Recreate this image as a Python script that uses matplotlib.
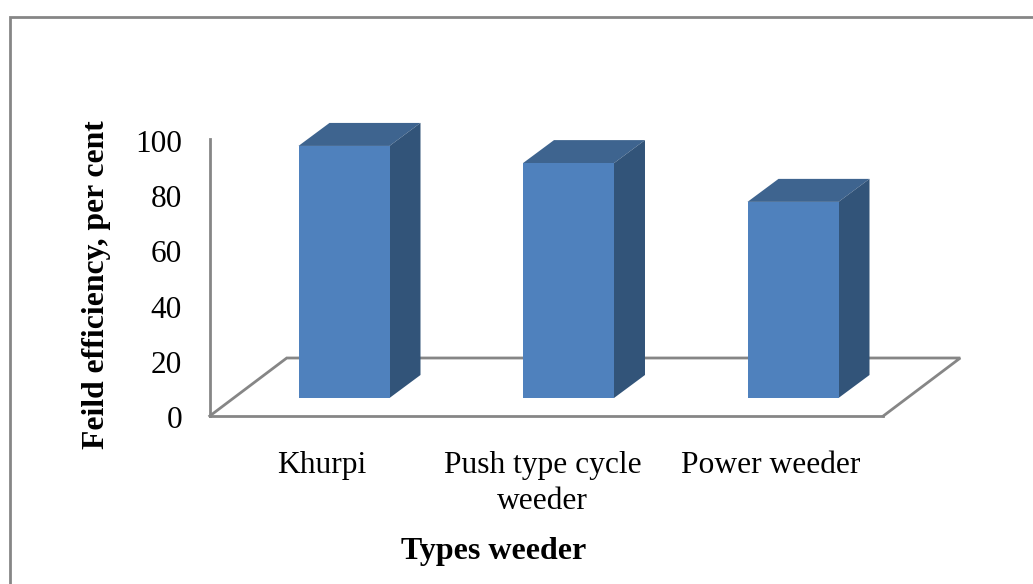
import matplotlib
matplotlib.use("Agg")
import matplotlib.pyplot as plt
from matplotlib.patches import Rectangle
from matplotlib.transforms import Affine2D

categories = ["Khurpi", "Push type cycle\nweeder", "Power weeder"]
values = [91, 84.8, 70.8]
yticks = [0, 20, 40, 60, 80, 100]
ylabel = "Feild efficiency, per cent"
xlabel = "Types weeder"

W, H = 1033, 584
plt.rcParams["font.family"] = ["Liberation Serif", "DejaVu Serif"]
fig = plt.figure(figsize=(W / 100, H / 100), dpi=100)
L, R, T, B = 209.75, 883.25, 139.0, 416.0
ax = fig.add_axes([L / W, 1 - B / H, (R - L) / W, (B - T) / H])
ax.set_xlim(-0.5, 2.5)
ax.set_ylim(0, 100)
ax.patch.set_alpha(0)
px_x = 3 / (R - L)
px_y = 100 / (B - T)

GRAY = "#868686"
for s in ("top", "right"):
    ax.spines[s].set_visible(False)
for s in ("left", "bottom"):
    ax.spines[s].set_color(GRAY)
    ax.spines[s].set_linewidth(2.0)

# floor of the 3D plot
fx, fy = 77 * px_x, 58 * px_y
ax.plot([-0.5, -0.5 + fx, 2.5 + fx, 2.5], [0, fy, fy, 0], color=GRAY, lw=2.0,
        clip_on=False, zorder=1, solid_joinstyle="miter")

# bars: front face moved back from the front edge of the floor
lift_x, lift_y = 22.0 * px_x, 18.0 * px_y
bar_w = 91 * px_x
dx, dy = 31 * px_x, 23 * px_y
FRONT, TOP, SIDE = "#4F81BD", "#3E648F", "#325479"
for i, v in enumerate(values):
    xc = i + lift_x
    x0, x1 = xc - bar_w / 2, xc + bar_w / 2
    b, t = lift_y, lift_y + v
    ax.bar(xc, v, bar_w, bottom=b, color=FRONT, linewidth=0, zorder=4, clip_on=False)
    ax.fill([x0, x0 + dx, x1 + dx, x1], [t, t + dy, t + dy, t], color=TOP, lw=0,
            zorder=3, clip_on=False)
    ax.fill([x1, x1 + dx, x1 + dx, x1], [b, b + dy, t + dy, t], color=SIDE, lw=0,
            zorder=3, clip_on=False)

ax.set_yticks(yticks)
ax.set_xticks(range(len(categories)))
ax.set_xticklabels(categories, fontsize=22.7, linespacing=1.3, color="black")
ax.tick_params(axis="y", length=0, pad=20, labelsize=22.5)
ax.tick_params(axis="x", length=0, pad=25.5)
for lab in ax.get_yticklabels():
    lab.set_transform(lab.get_transform() + Affine2D().translate(0, -1.5))
mid = ax.get_xticklabels()[1]
mid.set_transform(mid.get_transform() + Affine2D().translate(-4, 0))

fig.text(97 / W, 1 - 285 / H, ylabel, rotation=90, fontsize=22.8, fontweight="bold",
         ha="center", va="center")
fig.text(494 / W, 1 - 551 / H, xlabel, fontsize=23, fontweight="bold",
         ha="center", va="center")

# chart-area border
fig.add_artist(Rectangle((9.5 / W, 1 - 640 / H), 1030 / W, 623 / H,
                         transform=fig.transFigure, fill=False, edgecolor=GRAY,
                         linewidth=2.0, clip_on=True))
fig.savefig("out.png", dpi=100)
